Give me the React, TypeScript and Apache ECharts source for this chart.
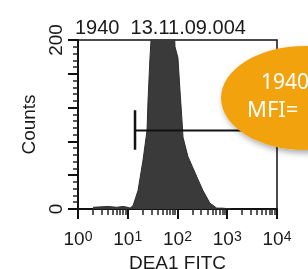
import React, { useEffect, useRef } from "react";
import * as echarts from "echarts";

const titleText = "1940  13.11.09.004";
const xName = "DEA1 FITC";
const yName = "Counts";
const yLabels = [0, 200];
const xTickValues = [1, 10, 100, 1000, 10000];

// fluorescence intensity (log scale) and event counts of the histogram
const intensity = [2, 4, 6, 8, 10, 11.1, 12.8, 16.1, 20.3, 24.4, 25.5, 28, 32.2, 39.8, 56.2, 79.4, 89.1, 102, 112, 123, 129, 162, 245, 324, 447, 617, 800, 1200];
const counts = [2, 3, 2, 3, 2, 1, 4, 22, 58, 93, 127, 179, 240, 260, 265, 260, 192, 179, 141, 105, 85, 62, 38, 22, 7, 1, 1, 0];

// gate marker
const gateStart = 14;
const gateEnd = 10000;
const gateLevel = 93;
const gateTickLow = 70;
const gateTickHigh = 117;

const bubbleLine1 = "1940";
const bubbleLine2 = "MFI=";

export default function App() {
  const ref = useRef<HTMLDivElement>(null);
  useEffect(() => {
    if (!ref.current) return;
    const chart = echarts.init(ref.current, null, { renderer: "svg" });
    const font = "Liberation Sans";
    const ink = "#1a1a1a";
    chart.setOption({
      animation: false,
      title: {
        text: titleText,
        left: 70,
        top: 12,
        textStyle: { fontSize: 20, fontWeight: "normal", color: ink, fontFamily: font },
      },
      grid: {
        left: 78,
        right: 31,
        top: 40,
        bottom: 60,
        containLabel: false,
        outerBoundsMode: "none",
        show: true,
        borderColor: "#111",
        borderWidth: 1.5,
      },
      xAxis: {
        type: "log",
        logBase: 10,
        min: 1,
        max: 10000,
        name: xName,
        nameLocation: "middle",
        nameGap: 42,
        nameTextStyle: { fontSize: 19, color: ink, fontFamily: font },
        axisLine: { show: true, lineStyle: { color: "#111", width: 2 } },
        axisTick: { show: true, length: 10, lineStyle: { color: "#111", width: 2 } },
        minorTick: { show: true, splitNumber: 9, length: 6, lineStyle: { color: "#222", width: 1.5 } },
        splitLine: { show: false },
        axisLabel: {
          margin: 20,
          color: ink,
          formatter: (v: number) =>
            xTickValues.includes(Math.round(v)) ? `{b|10}{s|${Math.round(Math.log10(v))}}` : "",
          rich: {
            b: { fontSize: 19, fontFamily: font, color: ink },
            s: { fontSize: 14, fontFamily: font, color: ink, verticalAlign: "top" },
          },
        },
      },
      yAxis: {
        type: "value",
        min: 0,
        max: 200,
        interval: 40,
        name: yName,
        nameLocation: "middle",
        nameGap: 40,
        nameTextStyle: { fontSize: 19, color: ink, fontFamily: font },
        axisLine: { show: true, lineStyle: { color: "#111", width: 2 } },
        axisTick: { show: true, length: 10, lineStyle: { color: "#111", width: 2 } },
        minorTick: { show: true, splitNumber: 5, length: 5, lineStyle: { color: "#222", width: 1.5 } },
        splitLine: { show: false },
        axisLabel: {
          rotate: 90,
          margin: 13,
          fontSize: 19,
          color: ink,
          fontFamily: font,
          formatter: (v: number) => (yLabels.includes(v) ? String(v) : ""),
        },
      },
      series: [
        {
          type: "line",
          data: intensity.map((x, i) => [x, counts[i]]),
          showSymbol: false,
          lineStyle: { color: "#2e2e2e", width: 1 },
          areaStyle: { color: "#3a3a3a", opacity: 1 },
          z: 2,
        },
        {
          type: "line",
          data: [
            [gateStart, gateLevel],
            [gateEnd, gateLevel],
          ],
          showSymbol: false,
          lineStyle: { color: "#111", width: 2 },
          z: 3,
        },
        {
          type: "line",
          data: [
            [gateStart, gateTickLow],
            [gateStart, gateTickHigh],
          ],
          showSymbol: false,
          lineStyle: { color: "#111", width: 2.5 },
          z: 3,
        },
      ],
      graphic: [
        {
          type: "ellipse",
          shape: { cx: 305, cy: 98, rx: 84, ry: 52 },
          style: {
            fill: "#F2A20F",
            shadowBlur: 6,
            shadowColor: "rgba(0,0,0,0.35)",
            shadowOffsetX: 2,
            shadowOffsetY: 3,
          },
          z: 10,
        },
        {
          type: "text",
          x: 261,
          y: 81,
          style: { text: bubbleLine1, fill: "#ffffff", fontSize: 21, fontFamily: "Noto Sans", verticalAlign: "middle" },
          z: 11,
        },
        {
          type: "text",
          x: 247,
          y: 108,
          style: { text: bubbleLine2, fill: "#ffffff", fontSize: 22, fontFamily: "Noto Sans", verticalAlign: "middle" },
          z: 11,
        },
      ],
    });
    return () => chart.dispose();
  }, []);
  return <div ref={ref} style={{ position: "fixed", left: 0, top: 0, width: 308, height: 269 }} />;
}
